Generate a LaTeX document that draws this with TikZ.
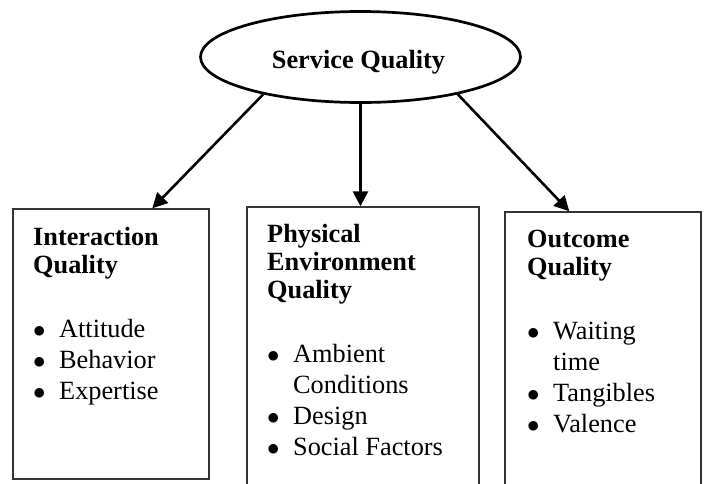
\documentclass[tikz,border=0pt]{standalone}
\usepackage{fontspec}
\setmainfont{Liberation Serif}
\usetikzlibrary{arrows.meta,shapes.geometric}

% one bullet line with a hanging indent for wrapped lines
\newcommand\bitem[1]{\par\noindent\hangindent=26pt\hangafter=1\makebox[26pt][l]{$\bullet$}#1}
% panel text: bold heading, blank line, then the bullet list
\newcommand\panelbody[3]{\parbox[t]{#1}{\raggedright\parskip=0pt
  \fontsize{26.3}{28}\selectfont\bfseries #2\par
  \vspace{33pt}\fontsize{26.3}{31}\selectfont\mdseries #3\par}}

\begin{document}
\begin{tikzpicture}[x=1pt,y=-1pt,
  frame/.style={draw=black!80, line width=1.4pt, rectangle, inner sep=0pt},
  hub/.style={draw, ellipse, line width=2.7pt, inner sep=0pt,
    minimum width=320pt, minimum height=91pt},
  link/.style={line width=2.6pt, -{Triangle[length=15pt,width=15pt]}},
  paneltext/.style={anchor=base west, inner sep=0pt}]
\useasboundingbox (0,0) rectangle (705,483);
\clip (0,0) rectangle (705,483);

% top concept
\node[hub] (sq) at (360.5,57) {};
\node[anchor=base, inner sep=0pt, font=\fontsize{26.3}{28}\selectfont\bfseries]
  (sqtext) at (358.5,68) {Service Quality};

% the three dimensions
\node[frame, minimum width=196pt, minimum height=270pt] (inter) at (111,344) {};
\node[frame, minimum width=232pt, minimum height=283pt] (phys) at (363,348.5) {};
\node[frame, minimum width=196pt, minimum height=278pt] (outc) at (603,351) {};

\node[paneltext] (intertext) at (33,245)
  {\panelbody{170pt}{Interaction\\Quality}
    {\bitem{Attitude}\bitem{Behavior}\bitem{Expertise}}};
\node[paneltext] (phystext) at (267,242)
  {\panelbody{205pt}{Physical\\Environment\\Quality}
    {\bitem{Ambient\newline Conditions}\bitem{Design}\bitem{Social Factors}}};
\node[paneltext] (outctext) at (527,247)
  {\panelbody{170pt}{Outcome\\Quality}
    {\bitem{Waiting\newline time}\bitem{Tangibles}\bitem{Valence}}};

% connectors
\draw[link] (sq.201.9) -- ([xshift=140pt]inter.north west);
\draw[link] (sq.south) -- (sq.south |- phys.north);
\draw[link] (sq.339) -- ([xshift=65pt]outc.north west);
\end{tikzpicture}
\end{document}
